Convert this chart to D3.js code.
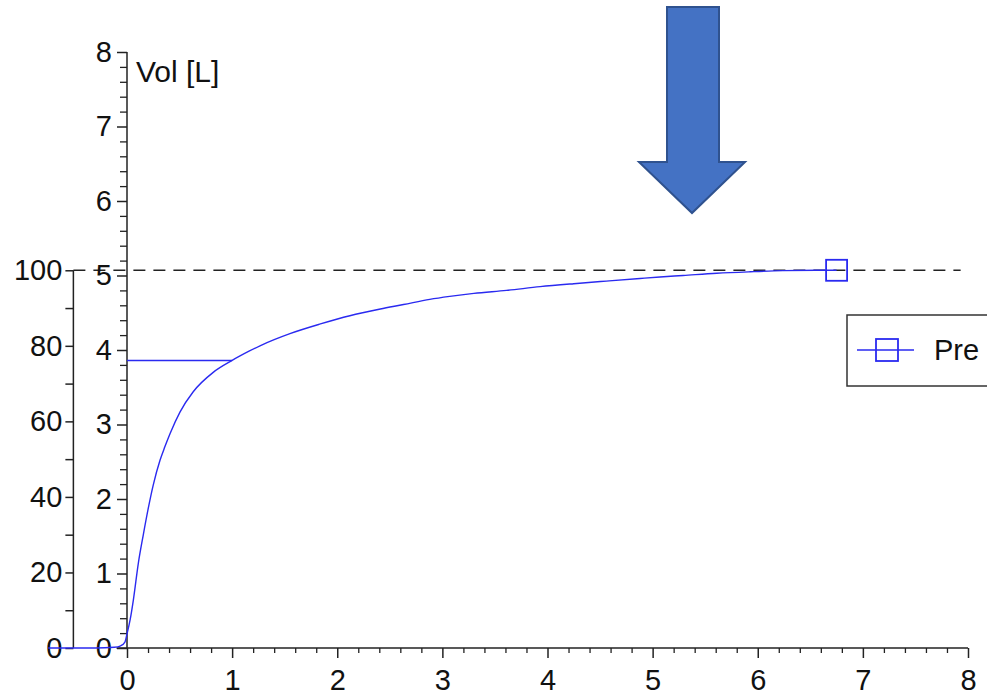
<!DOCTYPE html>
<html>
<head>
<meta charset="utf-8">
<script src="https://cdnjs.cloudflare.com/ajax/libs/d3/7.8.5/d3.min.js"></script>
<style>
  html, body { margin: 0; padding: 0; background: #fff; }
  svg { display: block; }
  text { font-family: "Liberation Sans", Arial, sans-serif; fill: #111; }
</style>
</head>
<body>
<svg id="chart" width="987" height="697"></svg>
<script>
// ---- data ----
const timeVals = [-0.75, -0.3, -0.12, -0.06, -0.02, 0, 0.03, 0.06, 0.108, 0.155, 0.203, 0.25, 0.314, 0.36, 0.41, 0.505, 0.63, 0.82, 1.0, 1.17, 1.27, 1.55, 1.84, 2.12, 2.41, 2.63, 2.88, 3.07, 3.30, 3.61, 3.93, 4.25, 4.56, 4.88, 5.07, 5.29, 5.61, 5.93, 6.24, 6.56, 6.75];
const volVals  = [0.0, 0.0, 0.01, 0.03, 0.08, 0.19, 0.38, 0.64, 1.14, 1.52, 1.88, 2.19, 2.52, 2.70, 2.88, 3.17, 3.44, 3.70, 3.86, 3.99, 4.06, 4.22, 4.35, 4.46, 4.55, 4.61, 4.68, 4.72, 4.76, 4.80, 4.85, 4.89, 4.925, 4.96, 4.98, 5.0, 5.03, 5.05, 5.065, 5.07, 5.07];
const xTicks = [0, 1, 2, 3, 4, 5, 6, 7, 8];
const volTicks = [0, 1, 2, 3, 4, 5, 6, 7, 8];
const pctTicks = [0, 20, 40, 60, 80, 100];
const fvc = 5.07;
const fev1 = 3.86;
const fev1Time = 1.0;
const seriesName = "Pre";
const volTitle = "Vol [L]";

// ---- scales ----
const svg = d3.select("#chart");
const x = d3.scaleLinear().domain([0, 8]).range([127, 968]);
const y = d3.scaleLinear().domain([0, 8]).range([648, 52]);
const pct = d3.scaleLinear().domain([0, 100]).range([y(0), y(fvc)]);
const pctAxisX = x(-0.51);

const axisColor = "#222";
const fontSize = 29;
const fontFam = '"Liberation Sans", Arial, sans-serif';

// minor tick arrays
const xMinor = d3.range(0, 8.0001, 0.2).filter(v => Math.abs(v - Math.round(v)) > 1e-6);
const volMinor = d3.range(0, 8.0001, 0.2).filter(v => Math.abs(v - Math.round(v)) > 1e-6);
const pctMinor = d3.range(10, 100, 20);

// ---- dashed 100% line ----
svg.append("line")
  .attr("x1", pctAxisX).attr("x2", x(7.93))
  .attr("y1", pct(100)).attr("y2", pct(100))
  .attr("stroke", axisColor).attr("stroke-width", 1.5)
  .attr("stroke-dasharray", "12,8");

// ---- x axis ----
const gx = svg.append("g").attr("transform", `translate(0,${y(0)})`);
gx.append("line").attr("x1", x(-0.1)).attr("x2", x(8)).attr("y1", 0).attr("y2", 0)
  .attr("stroke", axisColor).attr("stroke-width", 1.5);
gx.call(g => {
  const ax = d3.axisBottom(x).tickValues(xMinor).tickSize(5).tickFormat("");
  const m = g.append("g").call(ax);
  m.select(".domain").remove();
  m.selectAll("line").attr("stroke", axisColor).attr("stroke-width", 1.3);
});
gx.call(g => {
  const ax = d3.axisBottom(x).tickValues(xTicks).tickSize(10).tickPadding(11).tickFormat(d3.format("d"));
  const m = g.append("g").call(ax);
  m.select(".domain").remove();
  m.selectAll("line").attr("stroke", axisColor).attr("stroke-width", 1.5);
  m.selectAll("text").attr("font-size", fontSize).attr("fill", "#111").style("font-family", fontFam);
});

// ---- vol axis ----
const gy = svg.append("g").attr("transform", `translate(${x(0)},0)`);
gy.append("line").attr("x1", 0).attr("x2", 0).attr("y1", y(0)).attr("y2", y(8))
  .attr("stroke", axisColor).attr("stroke-width", 1.5);
gy.call(g => {
  const ax = d3.axisLeft(y).tickValues(volMinor).tickSize(7).tickFormat("");
  const m = g.append("g").call(ax);
  m.select(".domain").remove();
  m.selectAll("line").attr("stroke", axisColor).attr("stroke-width", 1.3);
});
gy.call(g => {
  const ax = d3.axisLeft(y).tickValues(volTicks).tickSize(10).tickPadding(5).tickFormat(d3.format("d"));
  const m = g.append("g").call(ax);
  m.select(".domain").remove();
  m.selectAll("line").attr("stroke", axisColor).attr("stroke-width", 1.5);
  m.selectAll("text").attr("font-size", fontSize).attr("fill", "#111").style("font-family", fontFam);
});
svg.append("text").attr("x", x(0) + 9).attr("y", 82)
  .attr("font-size", 30).text(volTitle);

// ---- percent axis ----
const gp = svg.append("g").attr("transform", `translate(${pctAxisX},0)`);
gp.append("line").attr("x1", 0).attr("x2", 0).attr("y1", pct(0)).attr("y2", pct(100))
  .attr("stroke", axisColor).attr("stroke-width", 1.5);
gp.call(g => {
  const ax = d3.axisLeft(pct).tickValues(pctMinor).tickSize(8).tickFormat("");
  const m = g.append("g").call(ax);
  m.select(".domain").remove();
  m.selectAll("line").attr("stroke", axisColor).attr("stroke-width", 1.5);
});
gp.call(g => {
  const ax = d3.axisLeft(pct).tickValues(pctTicks).tickSize(8).tickPadding(3).tickFormat(d3.format("d"));
  const m = g.append("g").call(ax);
  m.select(".domain").remove();
  m.selectAll("line").attr("stroke", axisColor).attr("stroke-width", 1.5);
  m.selectAll("text").attr("font-size", fontSize).attr("fill", "#111").style("font-family", fontFam);
});

// ---- FEV1 horizontal marker ----
const blue = "#2a2af0";
svg.append("line")
  .attr("x1", x(0)).attr("x2", x(fev1Time))
  .attr("y1", y(fev1)).attr("y2", y(fev1))
  .attr("stroke", blue).attr("stroke-width", 1.5);

// ---- curve ----
const pts = timeVals.map((t, i) => [t, volVals[i]]);
const line = d3.line().x(d => x(d[0])).y(d => y(d[1])).curve(d3.curveMonotoneX);
svg.append("path").datum(pts).attr("d", line)
  .attr("fill", "none").attr("stroke", blue).attr("stroke-width", 1.4);

// end marker
const last = pts[pts.length - 1];
svg.append("rect")
  .attr("x", x(last[0]) - 10.5).attr("y", y(last[1]) - 10.5)
  .attr("width", 21).attr("height", 21)
  .attr("fill", "none").attr("stroke", blue).attr("stroke-width", 1.8);

// ---- legend ----
const lg = svg.append("g");
lg.append("rect").attr("x", 847).attr("y", 315).attr("width", 160).attr("height", 71)
  .attr("fill", "#fff").attr("stroke", "#333").attr("stroke-width", 1.5);
lg.append("line").attr("x1", 857).attr("x2", 914).attr("y1", 350).attr("y2", 350)
  .attr("stroke", blue).attr("stroke-width", 1.5);
lg.append("rect").attr("x", 876).attr("y", 339).attr("width", 22).attr("height", 22)
  .attr("fill", "none").attr("stroke", blue).attr("stroke-width", 1.8);
lg.append("text").attr("x", 934).attr("y", 360).attr("font-size", fontSize).text(seriesName);

// ---- annotation arrow ----
const arrowPts = [[667, 7], [719, 7], [719, 162], [745, 162], [692, 213], [639, 162], [667, 162]];
svg.append("polygon")
  .attr("points", arrowPts.map(p => p.join(",")).join(" "))
  .attr("fill", "#4472C4").attr("stroke", "#2F528F").attr("stroke-width", 2);
</script>
</body>
</html>
